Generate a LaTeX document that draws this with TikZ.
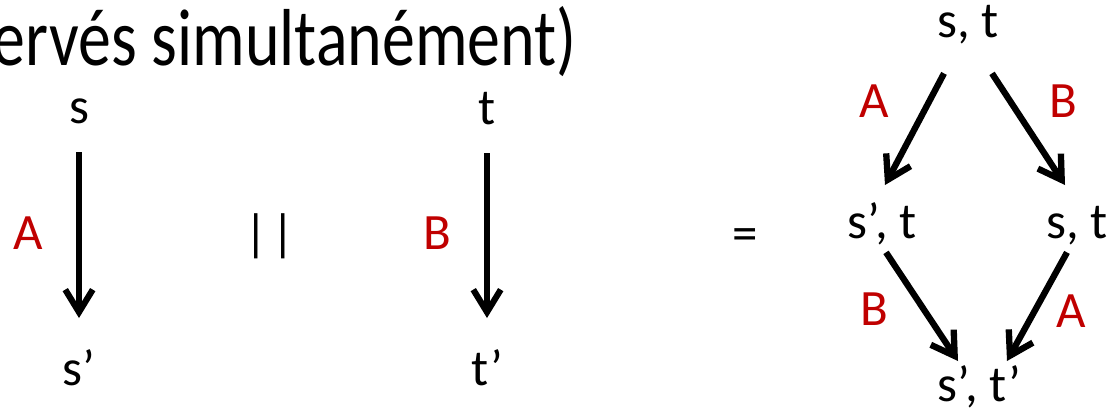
\documentclass[tikz,border=0pt]{standalone}
\usepackage{fontspec}
\setmainfont{Carlito}
\usetikzlibrary{arrows.meta}
\definecolor{actred}{HTML}{C00000}

\begin{document}
\begin{tikzpicture}[
    x=0.02cm, y=-0.02cm,
    lbl/.style={
      font=\fontsize{29}{34}\selectfont, anchor=base,
      inner sep=0pt, text height=20pt, text depth=6pt,
    },
    act/.style={lbl, text=actred},
    heading/.style={font=\fontsize{46}{54}\selectfont, anchor=base east, inner sep=0pt},
    move/.style={-{Straight Barb[length=4.5mm, width=5.5mm]}, line width=3.5pt},
    diag/.style={move, line width=3.6pt},
]
\useasboundingbox (0,0) rectangle (1109,407);
\clip (0,0) rectangle (1109,407);

\node[heading] (title) at (577,65) {\scalebox{0.815}[1]{servés simultanément)}};

% the two processes on their own
\node[lbl] (s)  at (79,123) {s};
\node[lbl] (sp) at (79,385) {s’};
\draw[move, shorten <=0.37cm, shorten >=0.63cm] (s) -- (sp);
\node[act] (lA) at (28,249) {A};

\node[lbl] (par) at (270,250) {|\kern2pt|};

\node[lbl] (t)  at (487,124) {t};
\node[lbl] (tp) at (487,385) {t’};
\draw[move, shorten <=0.37cm, shorten >=0.63cm] (t) -- (tp);
\node[act] (lB) at (437,249) {B};

\node[lbl] (eq) at (745,250) {=};

% interleavings
\node[lbl] (st)   at (968,37)  {s, t};
\node[lbl] (spt)  at (882,238) {s’, t};
\node[lbl] (stR)  at (1077,238) {s, t};
\node[lbl] (sptp) at (979,401) {s’, t’};

\draw[diag] ([xshift=-0.48cm, yshift=-0.51cm]st.south) -- ([xshift=0.06cm, yshift=0.35cm]spt.north);
\draw[diag] ([xshift=0.48cm, yshift=-0.51cm]st.south) -- ([xshift=-0.24cm, yshift=0.35cm]stR.north);
\draw[diag] ([xshift=0.08cm, yshift=-0.07cm]spt.south) -- ([xshift=-0.42cm, yshift=0.09cm]sptp.north);
\draw[diag] ([xshift=-0.2cm, yshift=-0.07cm]stR.south) -- ([xshift=0.56cm, yshift=0.09cm]sptp.north);

\node[act] (tlA) at (874,117) {A};
\node[act] (trB) at (1063,117) {B};
\node[act] (blB) at (874,325) {B};
\node[act] (brA) at (1071,327) {A};
\end{tikzpicture}
\end{document}
